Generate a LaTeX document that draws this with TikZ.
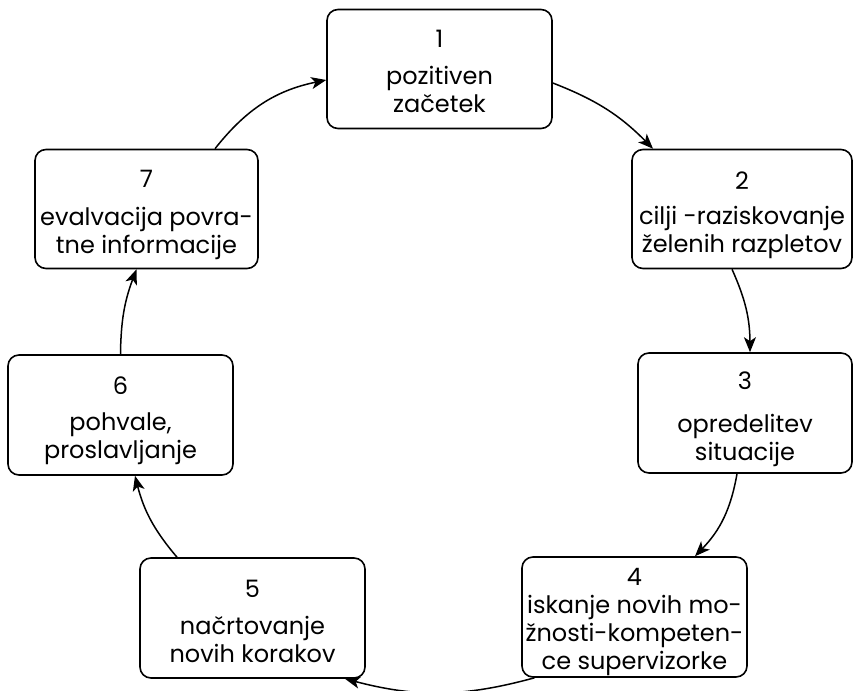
\documentclass[tikz,border=0pt]{standalone}
\usepackage{fontspec}
\setmainfont{Poppins}
\usetikzlibrary{arrows.meta,calc}
\begin{document}
\begin{tikzpicture}[x=1pt,y=-1pt,
  box/.style={draw, line width=1.6pt, rounded corners=11pt, minimum width=225pt, minimum height=119pt, inner sep=0pt},
  txt/.style={align=center, font=\fontsize{24}{28}\selectfont, inner sep=0pt, anchor=north},
  arr/.style={line width=1.5pt, -{Stealth[length=15pt,width=12pt,inset=4pt]}}]
\useasboundingbox (0,0) rectangle (853,690);
% boxes
\node[box] (b1) at (439.5,69) {};
\node[box, minimum width=220pt] (b2) at (742,209) {};
\node[box, minimum width=214pt, minimum height=120pt] (b3) at (745,413) {};
\node[box, minimum height=120pt] (b4) at (634.5,617) {};
\node[box, minimum height=120pt] (b5) at (252.5,618) {};
\node[box, minimum height=120pt] (b6) at (120.5,415) {};
\node[box, minimum width=223pt] (b7) at (146.5,209) {};
% texts
\node[txt] (t1) at (439.5,29.6) {1\\[9pt]pozitiven\\začetek};
\node[txt] (t2) at (742,171.6) {2\\[7pt]cilji -raziskovanje\\želenih razpletov};
\node[txt] (t3) at (745,371.6) {3\\[15pt]opredelitev\\situacije};
\node[txt] (t4) at (634.5,568.6) {4\\iskanje novih mo-\\žnosti-kompeten-\\ce supervizorke};
\node[txt] (t5) at (252.5,579.6) {5\\[9pt]načrtovanje\\novih korakov};
\node[txt] (t6) at (120.5,376.6) {6\\[8pt]pohvale,\\proslavljanje};
\node[txt] (t7) at (146.5,169.6) {7\\[10pt]evalvacija povra-\\tne informacije};
% arrows
\draw[arr] ($(b1.east)+(0,14)$) to[bend left=12] ($(b2.north)+(-89,0)$);
\draw[arr] ($(b2.south)+(-10,0)$) to[bend left=12] ($(b3.north)+(5,0)$);
\draw[arr] ($(b3.south)+(-8,0)$) to[bend left=17] ($(b4.north)+(60.5,0)$);
\draw[arr] ($(b4.south)+(-100,0)$) to[bend left=15] ($(b5.south)+(92.5,0)$);
\draw[arr] ($(b5.north)+(-75.5,0)$) to[bend left=13] ($(b6.south)+(14.5,0)$);
\draw[arr] (b6.north) to[bend left=10] ($(b7.south)+(-10,0)$);
\draw[arr] ($(b7.north)+(68.5,0)$) to[bend left=20] ($(b1.west)+(0,11)$);
\end{tikzpicture}
\end{document}
